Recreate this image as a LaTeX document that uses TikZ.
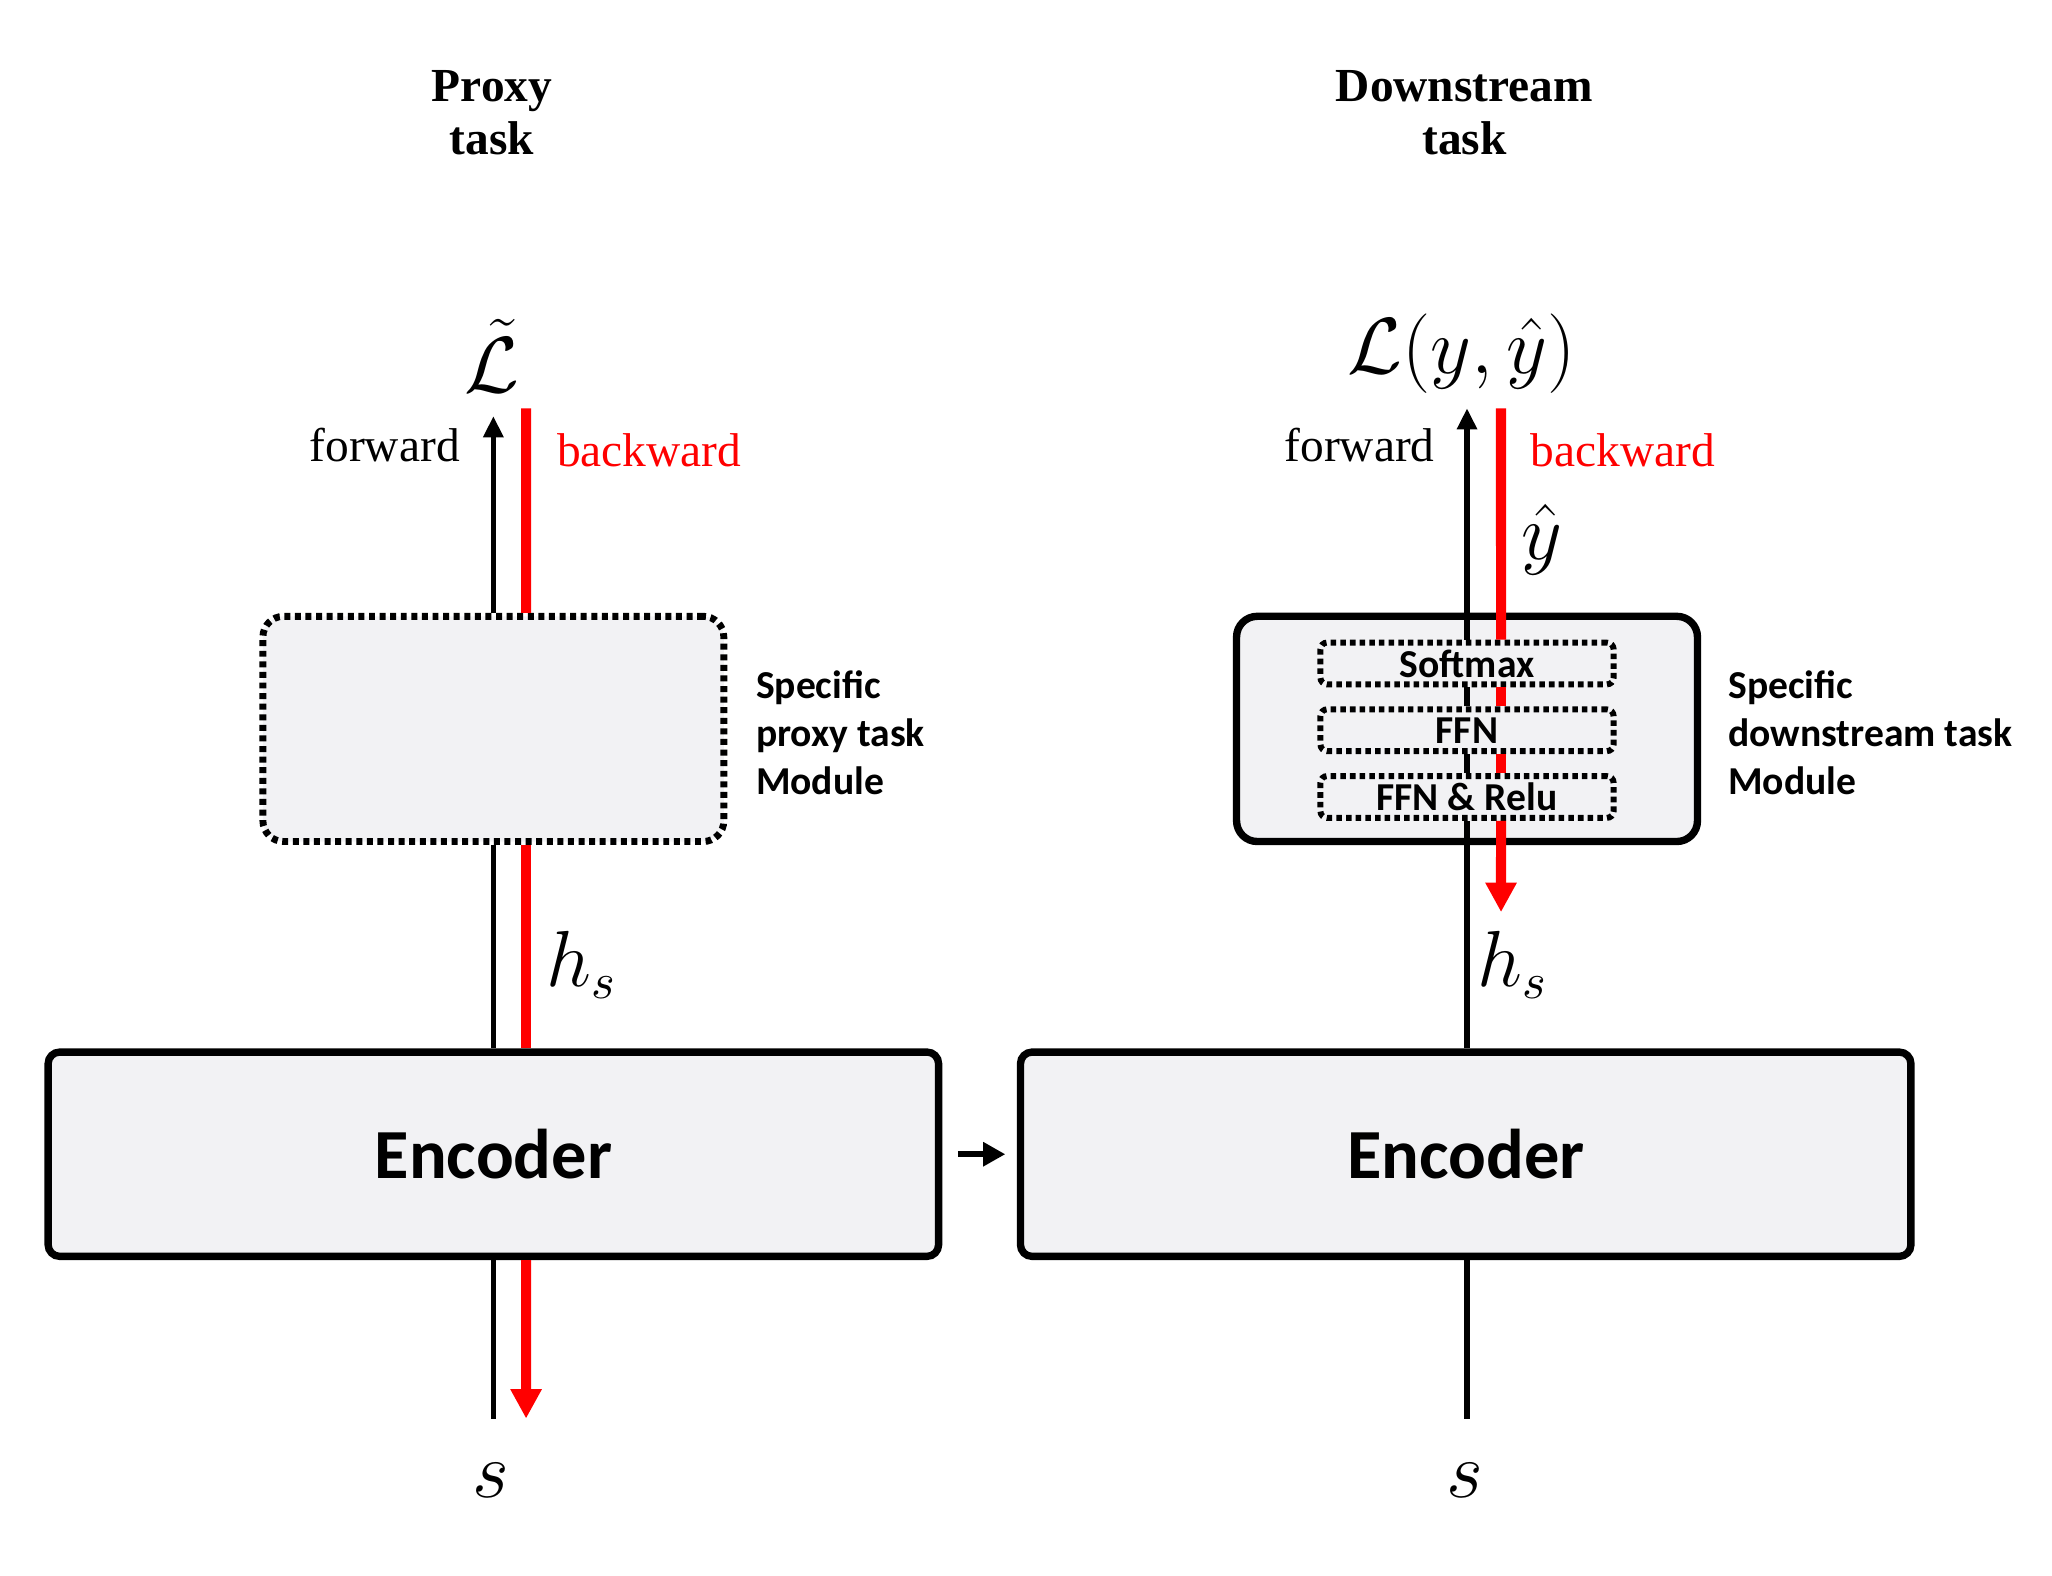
\documentclass[tikz,border=0pt]{standalone}
\usepackage{fontspec}
\setmainfont{Liberation Serif}
\newfontfamily\calibri{Carlito}
\usetikzlibrary{arrows.meta}
\definecolor{boxgray}{HTML}{F2F2F4}
\tikzset{
    fwd/.style={line width=1.2pt, >={Triangle[length=4.6pt,width=4.2pt]}},
    bwd/.style={red, line width=2.2pt, >={Triangle[length=6.4pt,width=6.4pt]}},
    encbox/.style={draw, fill=boxgray, line width=1.6pt, rounded corners=2.5pt,
        minimum width=6.8cm, minimum height=1.56cm,
        font=\calibri\bfseries\fontsize{15.3}{18}\selectfont},
    modbox/.style={draw, fill=boxgray, line width=1.6pt, rounded corners=4.5pt,
        minimum width=3.52cm, minimum height=1.72cm},
    dotted box/.style={modbox, line width=1.5pt, dash pattern=on 1.3pt off 1pt},
    layer/.style={draw, fill=boxgray, line width=1.3pt, dash pattern=on 1.2pt off 0.9pt,
        rounded corners=1.5pt, minimum width=2.24cm, minimum height=0.32cm, inner sep=0pt,
        font=\calibri\bfseries\fontsize{8.6}{10}\selectfont},
    note/.style={anchor=west, align=left, inner sep=0pt,
        font=\calibri\bfseries\fontsize{8.6}{10.5}\selectfont},
    title/.style={align=center, font=\bfseries\fontsize{10.3}{11.4}\selectfont},
    word/.style={inner sep=0pt, font=\fontsize{10.3}{12}\selectfont},
    sym/.style={inner sep=0pt, font=\fontsize{16}{19}\selectfont}
}
\begin{document}
\begin{tikzpicture}[x=0.01cm, y=-0.01cm]
    \useasboundingbox (0,0) rectangle (1568,1204);
    % proxy task
    \node[title] (tProxy) at (376,86) {Proxy\\task};
    \node[sym] (lossL) at (376,272) {$\tilde{\mathcal{L}}$};
    \node[word, anchor=east] (fwdL) at (352,340) {forward};
    \node[word, anchor=west, red] (bwdL) at (425,344) {backward};
    \node[dotted box] (modL) at (377,557) {};
    \node[note] (noteL) at (577,560) {Specific\\proxy task\\Module};
    \node[sym] (hL) at (445,737) {$h_s$};
    \node[encbox] (encL) at (377,882) {Encoder};
    \node[sym] (sL) at (375,1131) {$s$};
    \coordinate (topL) at (377,318);
    \coordinate (redL) at (402,312);
    \coordinate (inL) at (377,1084);
    \coordinate (outL) at (402,1084);
    \draw[fwd,->] (modL.north) -- (topL);
    \draw[bwd] (redL) -- ([xshift=0.25cm]modL.north);
    \draw[fwd] (encL.north) -- (modL.south);
    \draw[bwd] ([xshift=0.25cm]modL.south) -- ([xshift=0.25cm]encL.north);
    \draw[fwd] (inL) -- (encL.south);
    \draw[bwd,->] ([xshift=0.25cm]encL.south) -- (outL);
    % downstream task
    \node[title] (tDown) at (1119,86) {Downstream\\task};
    \node[sym] (lossR) at (1117,270) {$\mathcal{L}(y,\hat{y})$};
    \node[word, anchor=east] (fwdR) at (1097,340) {forward};
    \node[word, anchor=west, red] (bwdR) at (1169,344) {backward};
    \node[sym] (yhat) at (1178,412) {$\hat{y}$};
    \node[modbox] (modR) at (1121,557) {};
    \node[layer] (soft) at (1121,507) {Softmax};
    \node[layer] (ffn) at (1121,558) {FFN};
    \node[layer] (relu) at (1121,609) {FFN \& Relu};
    \node[note] (noteR) at (1320,560) {Specific\\downstream task\\Module};
    \node[sym] (hR) at (1156,737) {$h_s$};
    \node[encbox] (encR) at (1120,882) {Encoder};
    \node[sym] (sR) at (1119,1131) {$s$};
    \coordinate (topR) at (1121,312);
    \coordinate (redR) at (1147,312);
    \coordinate (inR) at (1121,1084);
    \coordinate (outR) at (1147,697);
    \draw[fwd,->] (soft.north) -- (topR);
    \draw[fwd] (ffn.north) -- (soft.south);
    \draw[fwd] (relu.north) -- (ffn.south);
    \draw[fwd] (encR.north -| relu.south) -- (relu.south);
    \draw[fwd] (inR) -- (encR.south -| inR);
    \draw[bwd] (redR) -- ([xshift=0.26cm]soft.north);
    \draw[bwd] ([xshift=0.26cm]soft.south) -- ([xshift=0.26cm]ffn.north);
    \draw[bwd] ([xshift=0.26cm]ffn.south) -- ([xshift=0.26cm]relu.north);
    \draw[bwd,->] ([xshift=0.26cm]relu.south) -- (outR);
    % encoder handover
    \draw[fwd,->,>={Triangle[length=4.8pt,width=5pt]},shorten <=3.4pt,shorten >=2.5pt] (encL) -- (encR);
\end{tikzpicture}
\end{document}
